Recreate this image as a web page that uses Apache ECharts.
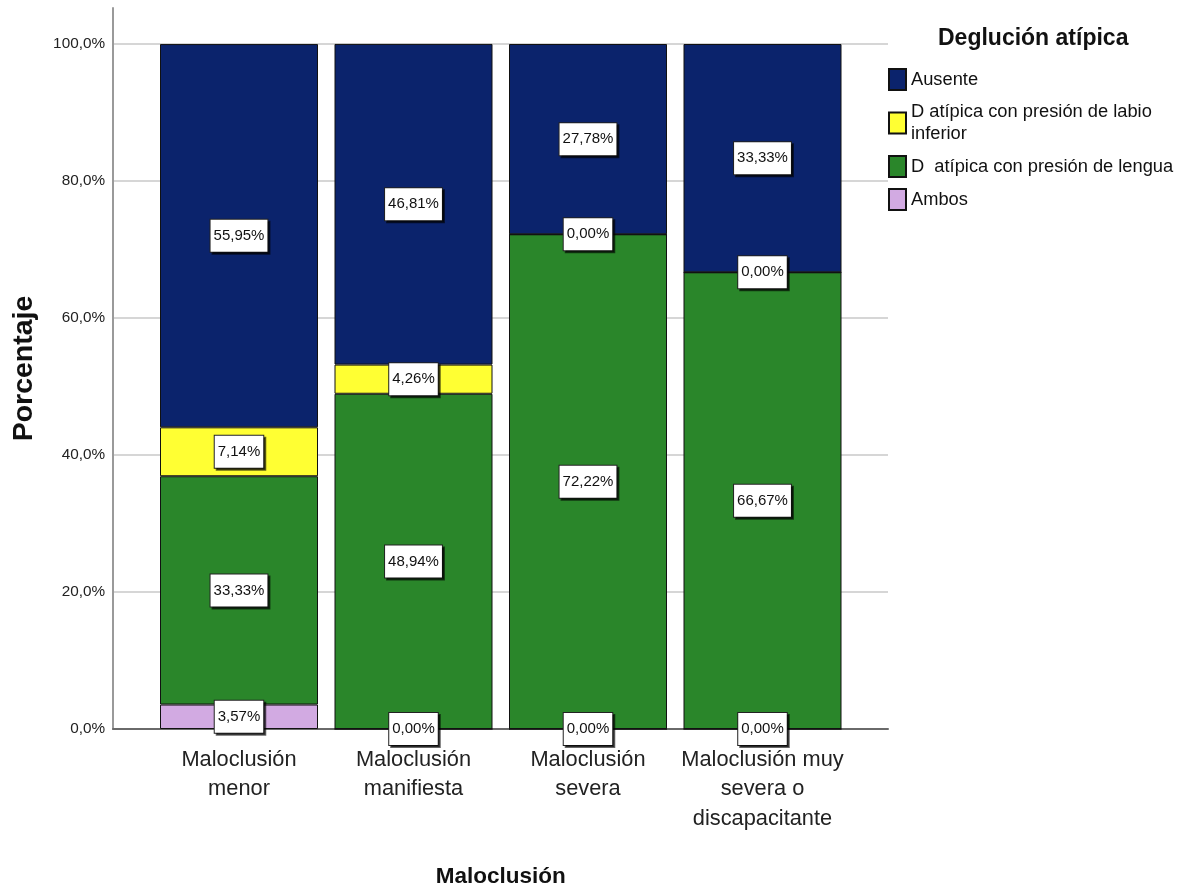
<!DOCTYPE html>
<html>
<head>
<meta charset="utf-8">
<script src="https://cdn.jsdelivr.net/npm/echarts@6/dist/echarts.min.js"></script>
<style>
  html, body { margin: 0; padding: 0; background: #ffffff; }
  #chart { width: 1186px; height: 890px; }
</style>
</head>
<body>
<div id="chart"></div>
<script>
// Maloclusión categories (line breaks as shown under each bar)
const categories = [
  'Maloclusión\nmenor',
  'Maloclusión\nmanifiesta',
  'Maloclusión\nsevera',
  'Maloclusión muy\nsevera o\ndiscapacitante'
];

// Percentages per group of "Deglución atípica"
const ausente = [55.95, 46.81, 27.78, 33.33];
const labioInferior = [7.14, 4.26, 0.00, 0.00];
const lengua = [33.33, 48.94, 72.22, 66.67];
const ambos = [3.57, 0.00, 0.00, 0.00];

const yTicks = [0, 20, 40, 60, 80, 100];

const names = {
  ausente: 'Ausente',
  labio: 'D atípica con presión de labio inferior',
  lengua: 'D  atípica con presión de lengua',
  ambos: 'Ambos'
};

const colors = {
  ausente: '#0b236c',
  labio: '#ffff33',
  lengua: '#2a862a',
  ambos: '#d2aae2'
};

const FONT = "'Liberation Sans', Arial, sans-serif";

const fmtPct = v => v.toFixed(2).replace('.', ',') + '%';

function barSeries(key, data) {
  return {
    name: names[key],
    type: 'bar',
    stack: 'total',
    xAxisIndex: 2,
    yAxisIndex: 2,
    barWidth: 158,
    data: data,
    itemStyle: { color: colors[key], borderColor: '#111111', borderWidth: 1 },
    label: {
      show: true,
      position: 'inside',
      formatter: p => fmtPct(p.value),
      fontFamily: FONT,
      fontSize: 15,
      lineHeight: 15,
      color: '#111111',
      backgroundColor: '#ffffff',
      borderColor: '#222222',
      borderWidth: 1,
      padding: [9, 3, 8, 3],
      shadowColor: 'rgba(0,0,0,0.6)',
      shadowOffsetX: 2,
      shadowOffsetY: 2,
      shadowBlur: 0
    },
    emphasis: { disabled: true }
  };
}

const chart = echarts.init(document.getElementById('chart'), null, { renderer: 'canvas' });

chart.setOption({
  backgroundColor: '#ffffff',
  animation: false,
  title: {
    text: 'Deglución atípica',
    left: 933,
    top: 22,
    textStyle: { fontFamily: FONT, fontWeight: 'bold', fontSize: 23, color: '#111111' }
  },
  legend: {
    orient: 'vertical',
    left: 888,
    top: 68,
    padding: 0,
    icon: 'rect',
    itemWidth: 17,
    itemHeight: 21,
    itemGap: 10,
    selectedMode: false,
    data: [names.ausente, names.labio, names.lengua, names.ambos],
    formatter: n => n === names.labio ? 'D atípica con presión de labio\ninferior' : n,
    textStyle: { fontFamily: FONT, fontSize: 18.3, lineHeight: 22, color: '#111111' }
  },
  grid: [
    // gridlines and percentage ticks
    { left: 113, right: 298, top: 44, bottom: 161, outerBoundsMode: 'none' },
    // vertical axis line reaching above 100%
    { left: 113, right: 298, top: 8, bottom: 161, outerBoundsMode: 'none' },
    // bars
    { left: 151.75, right: 336.25, top: 44, bottom: 161, outerBoundsMode: 'none' }
  ],
  xAxis: [
    {
      gridIndex: 0, type: 'category', data: categories,
      axisLine: { show: true, lineStyle: { color: '#6a6a6a', width: 2 } },
      axisTick: { show: false }, axisLabel: { show: false }, splitLine: { show: false }
    },
    {
      gridIndex: 1, type: 'category', data: categories, show: false
    },
    {
      gridIndex: 2, type: 'category', data: categories,
      name: 'Maloclusión',
      nameLocation: 'middle',
      nameGap: 136,
      nameTextStyle: { fontFamily: FONT, fontWeight: 'bold', fontSize: 22.5, color: '#111111' },
      axisLine: { show: false }, axisTick: { show: false },
      axisLabel: {
        interval: 0, margin: 16,
        fontFamily: FONT, fontSize: 21.8, lineHeight: 29.5, color: '#222222'
      }
    }
  ],
  yAxis: [
    {
      gridIndex: 0, type: 'value', min: yTicks[0], max: yTicks[yTicks.length - 1], interval: 20,
      axisLine: { show: false }, axisTick: { show: false },
      axisLabel: {
        margin: 8,
        fontFamily: FONT, fontSize: 15.3, color: '#222222',
        formatter: v => v.toFixed(1).replace('.', ',') + '%'
      },
      splitLine: { show: true, lineStyle: { color: '#d6d6d6', width: 2 } }
    },
    {
      gridIndex: 1, type: 'value', min: 0, max: 100,
      axisLine: { show: true, lineStyle: { color: '#9a9a9a', width: 2 } },
      axisTick: { show: false }, axisLabel: { show: false }, splitLine: { show: false },
      name: 'Porcentaje',
      nameLocation: 'middle',
      nameGap: 74,
      nameTextStyle: { fontFamily: FONT, fontWeight: 'bold', fontSize: 28.5, color: '#111111' }
    },
    {
      gridIndex: 2, type: 'value', min: 0, max: 100, show: false, splitLine: { show: false }
    }
  ],
  series: [
    barSeries('ambos', ambos),
    barSeries('lengua', lengua),
    barSeries('labio', labioInferior),
    barSeries('ausente', ausente)
  ]
});
</script>
</body>
</html>
